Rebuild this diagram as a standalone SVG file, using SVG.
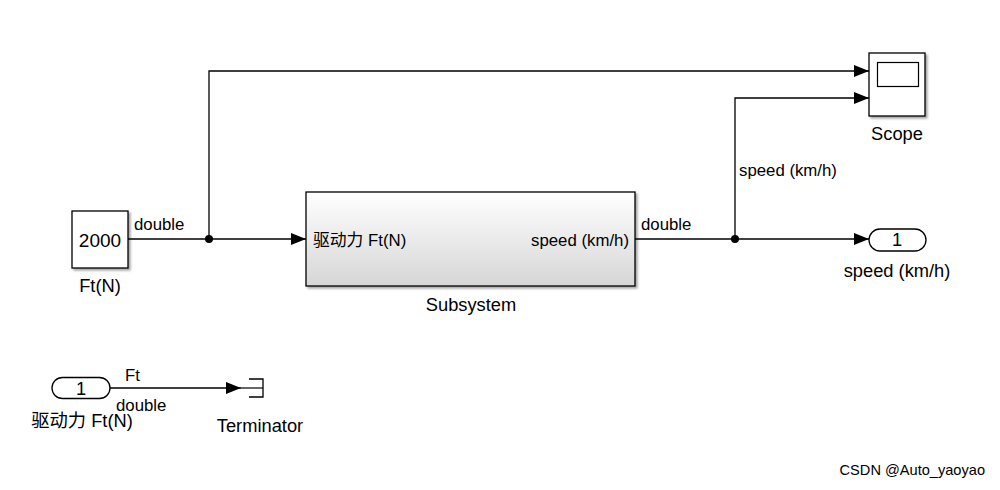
<svg xmlns="http://www.w3.org/2000/svg" width="1000" height="490" viewBox="0 0 1000 490">
<defs>
<linearGradient id="subg" x1="0" y1="0" x2="0" y2="1">
<stop offset="0" stop-color="#ffffff"/>
<stop offset="1" stop-color="#d6d6d6"/>
</linearGradient>
<marker id="arr" markerWidth="15" markerHeight="12" refX="15" refY="6" orient="auto" markerUnits="userSpaceOnUse">
<path d="M0,0 L15,6 L0,12 Z" fill="#000"/>
</marker>
<filter id="sh" x="-5%" y="-5%" width="115%" height="120%">
<feDropShadow dx="2" dy="2" stdDeviation="1" flood-color="#000" flood-opacity="0.35"/>
</filter>
</defs>
<style>
.blk{fill:#fff;stroke:#000;stroke-width:1.3}
.wire{fill:none;stroke:#000;stroke-width:1.3}
.t{font-family:"Liberation Sans",Arial,"Noto Sans CJK SC",sans-serif;fill:#000}
.bn{font-size:18.3px}
.sl{font-size:16.8px}
.in{font-size:16.8px}
</style>
<rect width="1000" height="490" fill="#fff"/>

<g id="connectors">
<polyline class="wire" points="128,239 306,239" marker-end="url(#arr)"/>
<polyline class="wire" points="209,239 209,71 869,71" marker-end="url(#arr)"/>
<polyline class="wire" points="635,239 869,239" marker-end="url(#arr)"/>
<polyline class="wire" points="735,239 735,98 869,98" marker-end="url(#arr)"/>
<polyline class="wire" points="110,388 241,388" marker-end="url(#arr)"/>
<circle cx="209" cy="239" r="4" fill="#000"/>
<circle cx="735" cy="239" r="4" fill="#000"/>
<text class="t sl" x="134" y="230">double</text>
<text class="t sl" x="641" y="230">double</text>
<text class="t sl" x="739" y="176">speed (km/h)</text>
<text class="t sl" x="125" y="381">Ft</text>
<text class="t sl" x="116" y="411">double</text>
</g>

<g id="constant">
<rect class="blk" x="72" y="211" width="56" height="57" filter="url(#sh)"/>
<text class="t" x="100" y="247" text-anchor="middle" font-size="19px">2000</text>
<text class="t bn" x="100" y="292" text-anchor="middle">Ft(N)</text>
</g>

<g id="subsystem">
<rect x="306" y="192" width="329" height="94" fill="url(#subg)" stroke="#000" stroke-width="1.3" filter="url(#sh)"/>
<text class="t in" x="313" y="246" fill="#333">驱动力 Ft(N)</text>
<text class="t in" x="629" y="246" text-anchor="end">speed (km/h)</text>
<text class="t bn" x="471" y="311" text-anchor="middle">Subsystem</text>
</g>

<g id="scope">
<rect class="blk" x="869" y="53" width="56" height="63" filter="url(#sh)"/>
<rect x="877.5" y="62.5" width="41" height="24" fill="#fff" stroke="#000" stroke-width="1.2"/>
<text class="t bn" x="897" y="140" text-anchor="middle">Scope</text>
</g>

<g id="outport">
<rect class="blk" x="869" y="229" width="57" height="22" rx="11" ry="11"/>
<text class="t bn" x="897" y="246" text-anchor="middle">1</text>
<text class="t bn" x="897" y="277" text-anchor="middle">speed (km/h)</text>
</g>

<g id="inport">
<rect class="blk" x="52" y="377.5" width="58" height="21" rx="10.5" ry="10.5"/>
<text class="t bn" x="81" y="394.5" text-anchor="middle">1</text>
<text class="t bn" x="82" y="427" text-anchor="middle">驱动力 Ft(N)</text>
</g>

<g id="terminator">
<polyline class="wire" points="249,379 263,379 263,397 249,397" stroke-width="1.2"/>
<line x1="241" y1="388" x2="263" y2="388" stroke="#000" stroke-width="1.2"/>
<text class="t bn" x="260" y="432" text-anchor="middle">Terminator</text>
</g>

<text class="t" x="985" y="475" text-anchor="end" font-size="14.6" fill="#9a9a9a">CSDN @Auto_yaoyao</text>
</svg>
